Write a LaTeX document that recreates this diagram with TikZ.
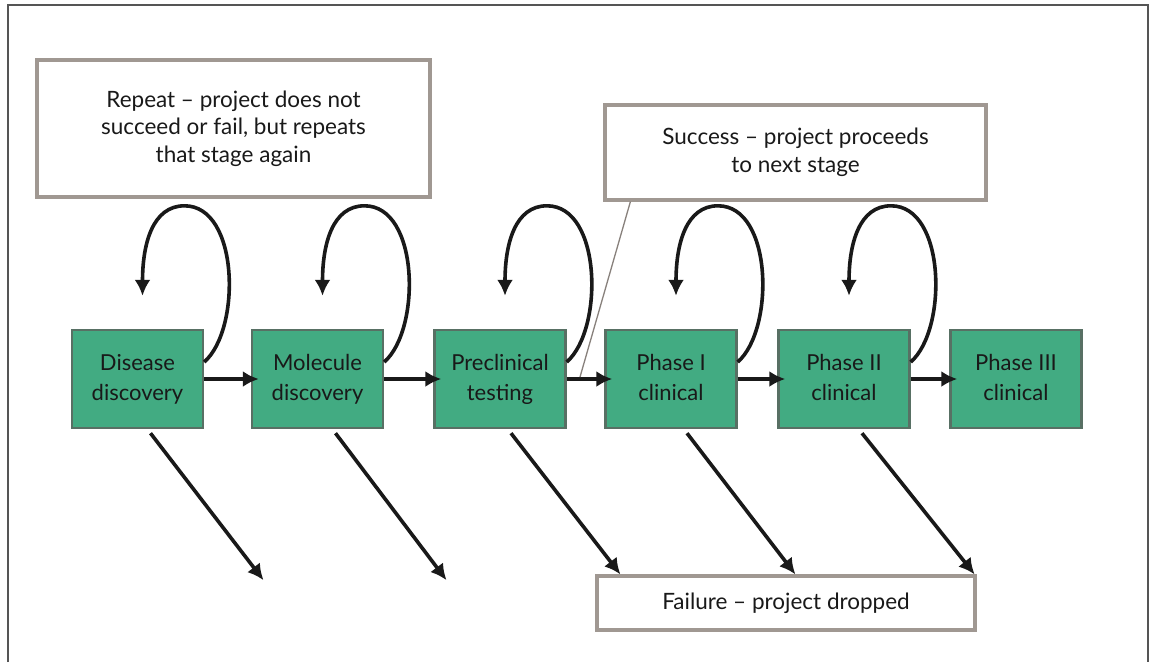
\documentclass[tikz,border=0pt]{standalone}
\usepackage{fontspec}
\setmainfont{Lato}
\usetikzlibrary{arrows.meta,calc}

\definecolor{stagefill}{RGB}{66,171,130}
\definecolor{stageedge}{RGB}{88,112,100}
\definecolor{noteedge}{RGB}{160,152,146}
\definecolor{frameedge}{RGB}{85,85,85}
\definecolor{inkdark}{RGB}{25,25,25}

\tikzset{
  stagebox/.style={draw=stageedge, line width=2.4pt, fill=stagefill,
    minimum width=131pt, minimum height=98pt, inner sep=0pt,
    align=center, text=inkdark, font=\fontsize{22}{30}\selectfont,
    execute at end node={\vphantom{y}}},
  notebox/.style={draw=noteedge, line width=3.2pt, fill=white,
    inner sep=0pt, align=center, text=inkdark,
    font=\fontsize{22.5}{27.5}\selectfont},
  flow/.style={line width=3.6pt, draw=inkdark,
    -{Latex[length=16pt,width=16pt]}},
  loopback/.style={flow},
  drop/.style={flow},
  pointer/.style={draw=noteedge!85!black, line width=1.3pt}
}

\begin{document}
\begin{tikzpicture}[x=1pt,y=-1pt]
  \useasboundingbox (0,0) rectangle (1150,662);
  \fill[white] (0,0) rectangle (1150,662);

  % outer frame, open at the bottom
  \draw[frameedge, line width=2pt] (8,662) -- (8,5) -- (1148,5) -- (1148,662);

  % explanatory notes
  \node[notebox, minimum width=393pt, minimum height=137pt] (repeat) at (233.5,128.5)
    {Repeat -- project does not\\succeed or fail, but repeats\\that stage again};
  \node[notebox, minimum width=381pt, minimum height=95pt] (success) at (795.5,152.5)
    {Success -- project proceeds\\to next stage};
  \node[notebox, minimum width=378pt, minimum height=54pt] (failure) at (786,603)
    {Failure -- project dropped};

  % development stages
  \node[stagebox] (s1) at (137.5,379) {Disease\\discovery};
  \node[stagebox] (s2) at (317.5,379) {Molecule\\discovery};
  \node[stagebox] (s3) at (500,379) {Preclinical\\testing};
  \node[stagebox] (s4) at (671,379) {Phase I\\clinical};
  \node[stagebox] (s5) at (844,379) {Phase II\\clinical};
  \node[stagebox] (s6) at (1016,379) {Phase III\\clinical};

  % success: move to the next stage
  \foreach \a/\b in {s1/s2,s2/s3,s3/s4,s4/s5,s5/s6}
    \draw[flow, shorten >=-8pt] (\a.east) -- (\b.west);

  % repeat: loop back over each stage
  \foreach \s in {s1,s2,s3,s4,s5}
    \draw[loopback] ($(\s.east)+(0,-17)$)
      .. controls +(37,-32) and +(55,0) .. ($(\s.north)+(47,-123)$)
      .. controls +(-32,0) and +(0,-52) .. ($(\s.north)+(5,-33)$);

  % failure: project dropped
  \coordinate (f1) at ($(s1.south)+(126,151)$);
  \coordinate (f2) at ($(s2.south)+(129,151)$);
  \coordinate (f3) at ($(failure.north west)+(25,0)$);
  \coordinate (f4) at ($(failure.north west)+(200,0)$);
  \coordinate (f5) at ($(failure.north east)+(-2,0)$);
  \draw[drop] ($(s1.south)+(13,4)$) -- (f1);
  \draw[drop] ($(s2.south)+(18,4)$) -- (f2);
  \draw[drop] ($(s3.south)+(11,4)$) -- (f3);
  \draw[drop] ($(s4.south)+(16,4)$) -- (f4);
  \draw[drop] ($(s5.south)+(18,4)$) -- (f5);

  % pointer from the success note to its arrow
  \coordinate (succtip) at (580,377);
  \draw[pointer] ($(success.south west)+(27,0)$) -- (succtip);
\end{tikzpicture}
\end{document}
